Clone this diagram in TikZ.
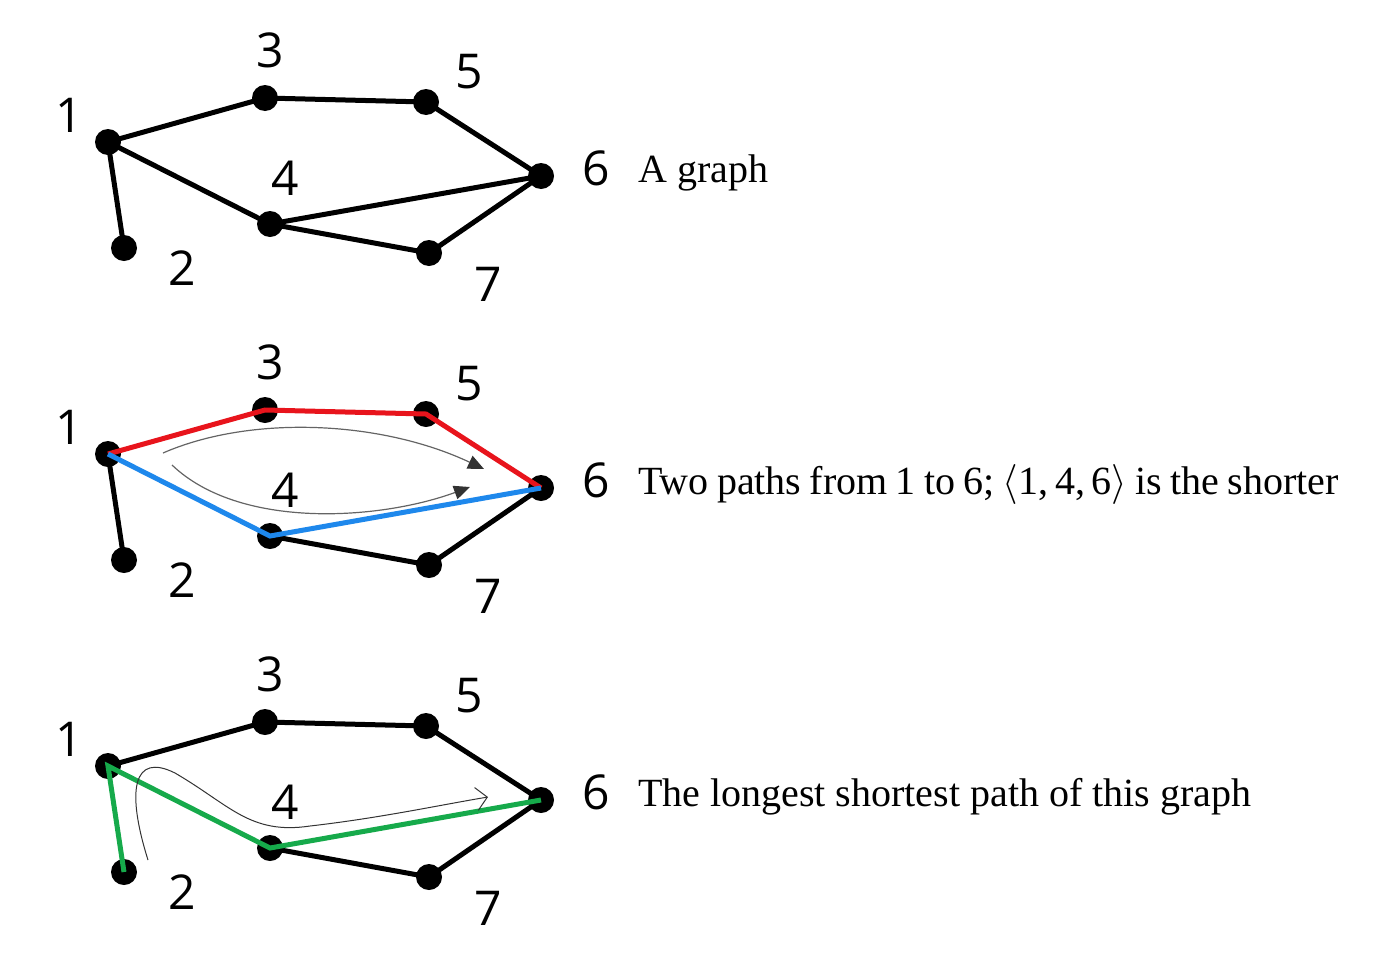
\RequirePackage{fix-cm}
\documentclass[tikz,border=0pt]{standalone}
\usepackage{fontspec}
\setmainfont{Liberation Serif}
\newfontfamily\numfont{Open Sans}
\usetikzlibrary{arrows.meta}
\definecolor{pathred}{RGB}{232,20,28}
\definecolor{pathblue}{RGB}{30,136,236}
\definecolor{pathgreen}{RGB}{22,170,75}
\definecolor{flowgray}{RGB}{100,100,100}
\definecolor{tipgray}{RGB}{50,50,50}
\tikzset{
  vtx/.style={circle, fill=black, inner sep=0pt, minimum size=26pt},
  num/.style={font=\numfont\fontsize{48}{48}\selectfont, inner sep=0pt},
  gedge/.style={line width=5pt, black},
  hl/.style={line width=5pt},
  caption/.style={anchor=base west, inner sep=0pt, font=\fontsize{40}{48}\selectfont},
  flow/.style={line width=1.2pt, flowgray},
}
\newcommand\graphvertices{%
  \node[vtx] (1) at (108,142) {};
  \node[vtx] (2) at (124,248) {};
  \node[vtx] (3) at (265,98) {};
  \node[vtx] (4) at (270,224) {};
  \node[vtx] (5) at (426,102) {};
  \node[vtx] (6) at (541,176) {};
  \node[vtx] (7) at (429,253) {};
  \node[num] (t1) at (69,115) {1};
  \node[num] (t2) at (182,268) {2};
  \node[num] (t3) at (270,50) {3};
  \node[num] (t4) at (285,178) {4};
  \node[num] (t5) at (469,72) {5};
  \node[num] (t6) at (596,168) {6};
  \node[num] (t7) at (488,284) {7};
}
\begin{document}
\begin{tikzpicture}[x=1pt,y=-1pt]
\useasboundingbox (0,0) rectangle (1388,964);
% ---- panel A ----
\begin{scope}[name prefix=a-]
  \graphvertices
  \draw[gedge] (1.center) -- (2.center);
  \draw[gedge] (1.center) -- (3.center) -- (5.center) -- (6.center);
  \draw[gedge] (1.center) -- (4.center) -- (6.center);
  \draw[gedge] (4.center) -- (7.center) -- (6.center);
  \node[caption] (cap) at (638,182) {A graph};
\end{scope}
% ---- panel B ----
\begin{scope}[shift={(0,312)}, name prefix=b-]
  \graphvertices
  \draw[gedge] (1.center) -- (2.center);
  \draw[gedge] (4.center) -- (7.center) -- (6.center);
  \draw[hl, pathred] (1.center) -- (3.center) -- (5.center) -- (6.center);
  \draw[hl, pathblue] (1.center) -- (4.center) -- (6.center);
  \coordinate (s1) at (163,141);
  \coordinate (e1) at (484,157);
  \coordinate (s2) at (172,153);
  \coordinate (e2) at (470,175);
  \draw[flow, -{Triangle[length=16pt,width=14pt]}, arrows={[color=tipgray]}]
    (s1) .. controls (250,103) and (380,108) .. (e1);
  \draw[flow, -{Triangle[length=16pt,width=14pt]}, arrows={[color=tipgray]}]
    (s2) .. controls (240,218) and (380,208) .. (e2);
  \node[caption] (cap) at (638,182) {\spaceskip=8.3pt\relax Two paths from 1 to 6; $\langle$1,\,4,\,6$\rangle$ is the shorter};
\end{scope}
% ---- panel C ----
\begin{scope}[shift={(0,624)}, name prefix=c-]
  \graphvertices
  \draw[gedge] (1.center) -- (3.center) -- (5.center) -- (6.center);
  \draw[gedge] (4.center) -- (7.center) -- (6.center);
  \draw[hl, pathgreen] (2.center) -- (1.center) -- (4.center) -- (6.center);
  \coordinate (s3) at (148,236);
  \coordinate (e3) at (488,173);
  \draw[line width=1pt, black!80, -{Straight Barb[length=11pt,width=23pt]}]
    (s3) .. controls (126,166) and (133,128) .. (175,149)
         .. controls (230,181) and (250,211) .. (310,202)
         .. controls (380,194) and (440,181) .. (e3);
  \node[caption] (cap) at (638,182) {The longest shortest path of this graph};
\end{scope}
\end{tikzpicture}
\end{document}
